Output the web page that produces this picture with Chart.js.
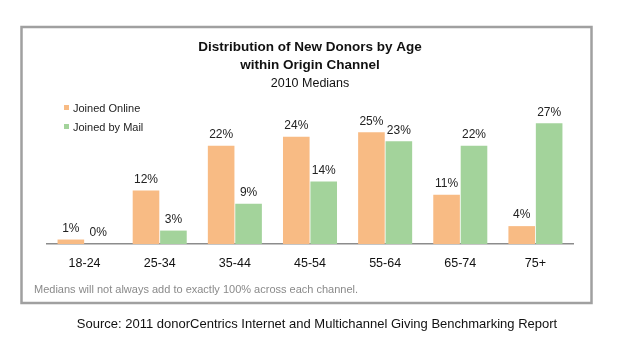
<!DOCTYPE html>
<html>
<head>
<meta charset="utf-8">
<script src="https://cdn.jsdelivr.net/npm/chart.js@4/dist/chart.umd.min.js"></script>
<style>
  html, body { margin: 0; padding: 0; background: #fff; }
  #wrap { position: relative; width: 620px; height: 345px; }
</style>
</head>
<body>
<div id="wrap"><canvas id="chart-canvas" width="620" height="345"></canvas></div>
<script>
const ageGroups = ['18-24', '25-34', '35-44', '45-54', '55-64', '65-74', '75+']
const joinedOnline = [1, 12, 22, 24, 25, 11, 4]
const joinedByMail = [0, 3, 9, 14, 23, 22, 27]
const seriesNames = ['Joined Online', 'Joined by Mail']
const titleLines = ['Distribution of New Donors by Age', 'within Origin Channel']
const subtitleText = '2010 Medians'
const footnote = 'Medians will not always add to exactly 100% across each channel.'
const sourceNote = 'Source: 2011 donorCentrics Internet and Multichannel Giving Benchmarking Report'

const orange = '#f8bb84'
const green = '#a3d39b'
const fontFamily = '"Liberation Sans", Arial, sans-serif'

// frame, footnote, source line
const framePlugin = {
    id: 'frame',
    beforeDraw(chart) {
        const ctx = chart.ctx
        ctx.save()
        ctx.fillStyle = '#fff'
        ctx.fillRect(0, 0, chart.width, chart.height)
        ctx.strokeStyle = '#a0a0a0'
        ctx.lineWidth = 2.5
        ctx.strokeRect(21.5, 27, 570, 276)
        ctx.restore()
    },
    afterDraw(chart) {
        const ctx = chart.ctx
        ctx.save()
        ctx.textBaseline = 'middle'
        ctx.textAlign = 'left'
        ctx.fillStyle = '#8a8a8a'
        ctx.font = '11px ' + fontFamily
        ctx.fillText(footnote, 34, 290)
        ctx.textAlign = 'center'
        ctx.fillStyle = '#111'
        ctx.font = '13px ' + fontFamily
        ctx.fillText(sourceNote, 317, 324)
        ctx.restore()
    }
}

// legend squares in upper left of plot, value labels over bars
const labelPlugin = {
    id: 'labels',
    afterDatasetsDraw(chart) {
        const ctx = chart.ctx
        ctx.save()
        ctx.textBaseline = 'middle'
        ctx.font = '11px ' + fontFamily
        chart.data.datasets.forEach((ds, i) => {
            const y = 108 + i * 19
            ctx.fillStyle = ds.backgroundColor
            ctx.fillRect(64, y - 3, 5, 5)
            ctx.fillStyle = '#222'
            ctx.textAlign = 'left'
            ctx.fillText(ds.label, 73, y + 1)
        })
        ctx.font = '12px ' + fontFamily
        ctx.textAlign = 'center'
        ctx.fillStyle = '#222'
        chart.data.datasets.forEach((ds, i) => {
            chart.getDatasetMeta(i).data.forEach((bar, j) => {
                ctx.fillText(ds.data[j] + '%', bar.x, bar.y - 11)
            })
        })
        ctx.restore()
    }
}

new Chart(document.getElementById('chart-canvas'), {
    type: 'bar',
    data: {
        labels: ageGroups,
        datasets: [
            { label: seriesNames[0], data: joinedOnline, backgroundColor: orange },
            { label: seriesNames[1], data: joinedByMail, backgroundColor: green }
        ]
    },
    options: {
        responsive: false,
        animation: false,
        devicePixelRatio: 1,
        layout: { padding: { left: 47, right: 47, top: 38, bottom: 62 } },
        datasets: { bar: { categoryPercentage: 0.73, barPercentage: 0.97 } },
        scales: {
            x: {
                grid: { display: false, drawTicks: false },
                border: { color: '#8c8c8c', width: 1.5 },
                ticks: { color: '#111', font: { family: fontFamily, size: 12.5 }, padding: 12 }
            },
            y: {
                display: false,
                min: 0,
                max: 30
            }
        },
        plugins: {
            legend: { display: false },
            tooltip: { enabled: false },
            title: {
                display: true,
                text: titleLines,
                color: '#111',
                font: { family: fontFamily, size: 13.5, weight: 'bold', lineHeight: 1.35 },
                padding: 0
            },
            subtitle: {
                display: true,
                text: subtitleText,
                color: '#111',
                font: { family: fontFamily, size: 12.5, lineHeight: 1.4 },
                padding: { top: 0, bottom: 18 }
            }
        }
    },
    plugins: [framePlugin, labelPlugin]
})
</script>
</body>
</html>
